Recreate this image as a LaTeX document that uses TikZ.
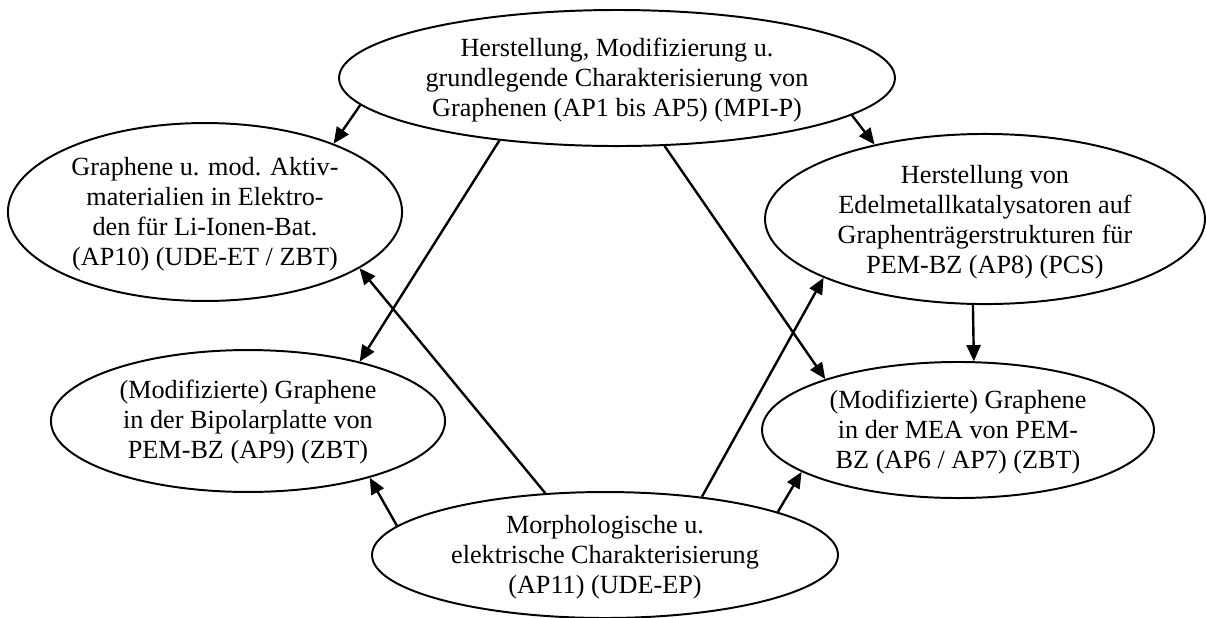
\documentclass[tikz,border=0pt]{standalone}
\usepackage{fontspec}
\setmainfont{Liberation Serif}
\usetikzlibrary{shapes.geometric, arrows.meta}
\tikzset{
    work/.style={draw, ellipse, inner sep=0pt, line width=0.9pt},
    work text/.style={align=center, inner sep=0pt, font=\fontsize{12pt}{13.74pt}\selectfont},
    flow/.style={-{Triangle[length=7.4pt, width=6.4pt]}, line width=1.1pt}
}

\begin{document}
\begin{tikzpicture}[x=0.458pt, y=-0.458pt]
        \useasboundingbox (0,0) rectangle (1206,617);
        %Work packages
        \node[work, minimum width=254.6pt, minimum height=62.3pt] (prep) at (617,78) {};
        \node[work, minimum width=180.5pt, minimum height=81.5pt] (bat) at (205,212) {};
        \node[work, minimum width=201.5pt, minimum height=77.9pt] (cat) at (985,219) {};
        \node[work, minimum width=180.5pt, minimum height=65pt] (bip) at (248,421) {};
        \node[work, minimum width=179.5pt, minimum height=62.3pt] (mea) at (958,430) {};
        \node[work, minimum width=213.4pt, minimum height=57.7pt] (char) at (605,555) {};
        %Texts
        \node[work text] at ([yshift=-0.8pt]prep) {Herstellung, Modifizierung u.\\grundlegende Charakterisierung von\\Graphenen (AP1 bis AP5) (MPI-P)};
        \node[work text] at ([yshift=-1.2pt]bat) {Graphene u. mod. Aktiv-\\materialien in Elektro-\\den für Li-Ionen-Bat.\\(AP10) (UDE-ET / ZBT)};
        \node[work text] at ([yshift=-1.6pt]cat) {Herstellung von\\Edelmetallkatalysatoren auf\\Graphenträgerstrukturen für\\PEM-BZ (AP8) (PCS)};
        \node[work text] at ([yshift=-0.5pt]bip) {(Modifizierte) Graphene\\in der Bipolarplatte von\\PEM-BZ (AP9) (ZBT)};
        \node[work text] at ([yshift=-1pt]mea) {(Modifizierte) Graphene\\in der MEA von PEM-\\BZ (AP6 / AP7) (ZBT)};
        \node[work text] at ([yshift=-1.2pt]char) {Morphologische u.\\elektrische Charakterisierung\\(AP11) (UDE-EP)};
        %Flows (top first, then bottom)
        \foreach \a/\b in {prep.186.7/bat.28, prep.351.2/cat.146.5, prep.208.5/bip.28.6,
                prep.305.2/mea.159.7, cat.262/mea.77.6, char.134.5/bat.340.6,
                char.31.6/cat.200.6, char.172.5/bip.335, char.14/mea.195.7}{
            \draw[flow] (\a) -- (\b);
        }
\end{tikzpicture}
\end{document}
